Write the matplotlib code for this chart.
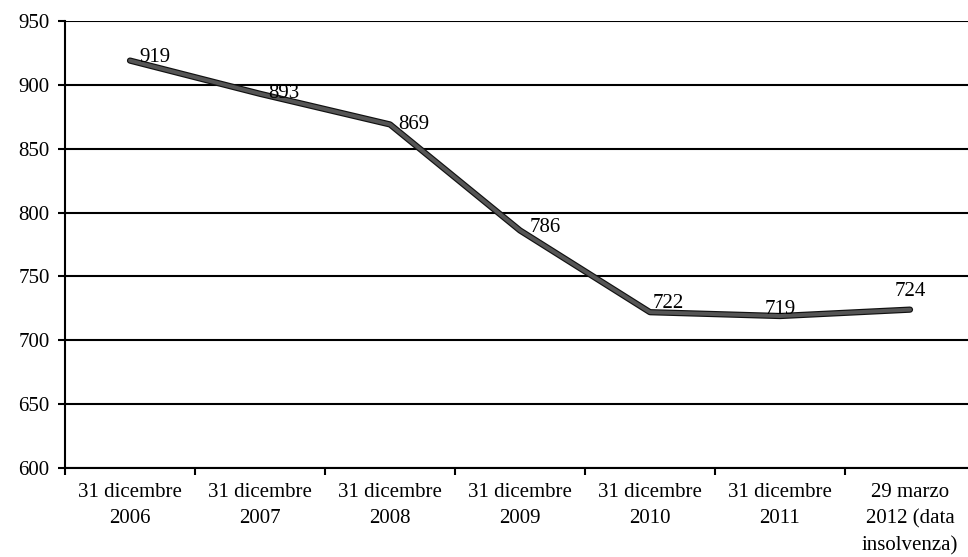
import matplotlib
matplotlib.use("Agg")
import matplotlib.pyplot as plt
import matplotlib.patheffects as pe
import numpy as np

plt.rcParams["font.family"] = ["Liberation Serif", "DejaVu Serif"]

# dipendenti per data di riferimento
categorie = ["31 dicembre\n2006", "31 dicembre\n2007", "31 dicembre\n2008",
             "31 dicembre\n2009", "31 dicembre\n2010", "31 dicembre\n2011",
             "29 marzo\n2012 (data\ninsolvenza)"]
valori = [919, 893, 869, 786, 722, 719, 724]

# label placement (offset in points, horizontal alignment)
label_pos = [((7, 2), "left"), ((6, 0), "left"), ((6, 0), "left"), ((7, 2), "left"),
             ((2, 6), "left"), ((0, -2), "center"), ((0, 6), "center")]

fig = plt.figure(figsize=(9.68, 5.57), dpi=100)
ax = fig.add_axes([65 / 968, 1 - 468 / 557, 910 / 968, 447 / 557])

x = np.arange(len(valori))
ax.plot(x, valori, color="#555555", lw=2.8, solid_capstyle="round", zorder=3,
        path_effects=[pe.Stroke(linewidth=4.5, foreground="#111111"), pe.Normal()])

for xi, v, ((dx, dy), ha) in zip(x, valori, label_pos):
    ax.annotate(str(v), (xi, v), xytext=(dx, dy), textcoords="offset points",
                ha=ha, va="center" if ha == "left" else "bottom", fontsize=15, zorder=4)

ax.set_ylim(600, 950)
ax.set_yticks(np.arange(600, 951, 50))
ax.set_xlim(-0.5, len(valori) - 0.5)
ax.set_xticks(x)
ax.set_xticklabels(categorie, fontsize=15, linespacing=1.5)
ax.set_xticks(np.arange(-0.5, len(valori), 1), minor=True)
ax.tick_params(axis="x", which="major", length=0, pad=11)
ax.tick_params(axis="x", which="minor", length=5, width=1.5, direction="out")
ax.tick_params(axis="y", length=5, width=1.5, direction="out", labelsize=15, pad=6)

ax.grid(axis="y", color="black", lw=1.5)
ax.set_axisbelow(True)
for s in ["top", "right"]:
    ax.spines[s].set_visible(False)
for s in ["left", "bottom"]:
    ax.spines[s].set_linewidth(1.5)

fig.savefig("out.png", dpi=100)
